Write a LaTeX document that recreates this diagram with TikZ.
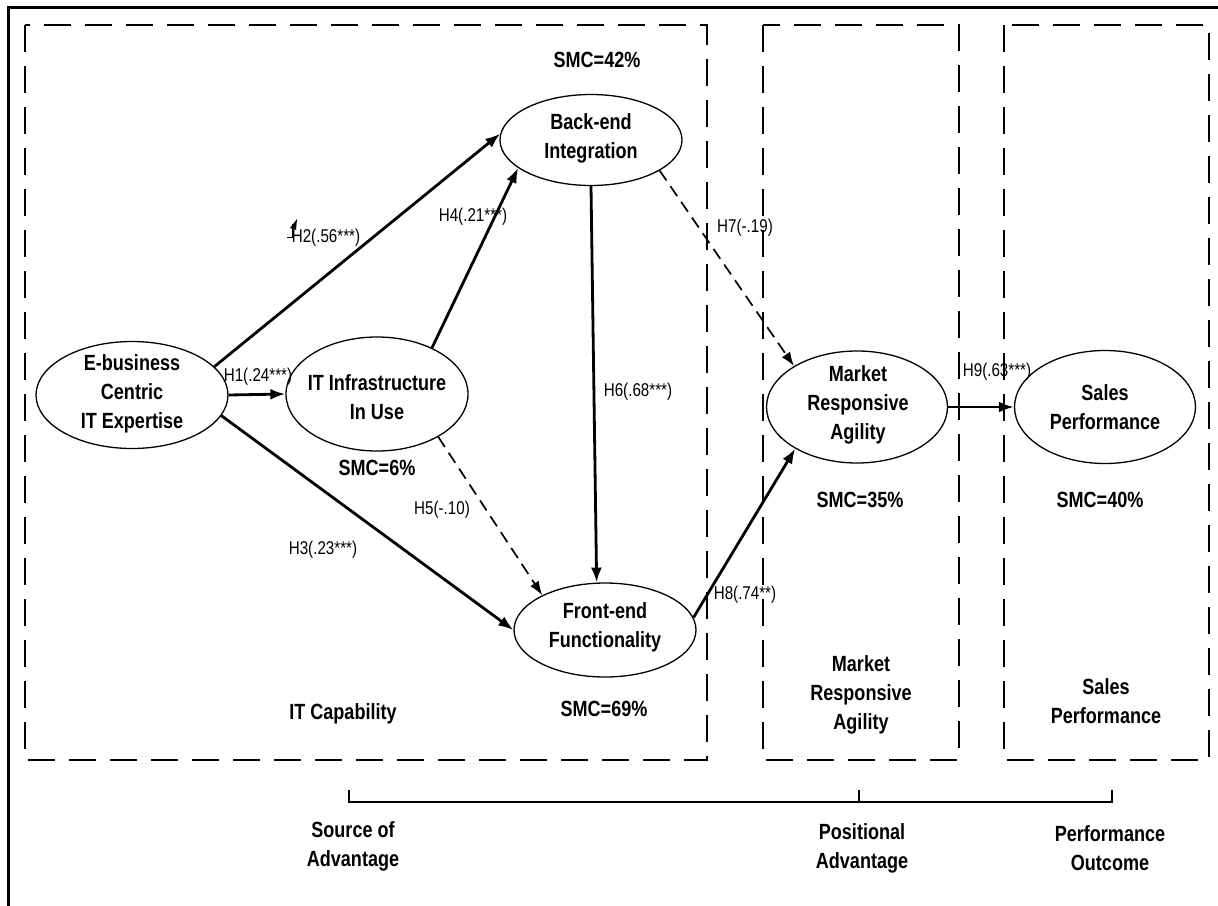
\documentclass[tikz,border=0pt]{standalone}
\usepackage{fontspec}
\setmainfont{Liberation Sans}[FakeStretch=0.82]
\usetikzlibrary{shapes.geometric,arrows.meta}
\begin{document}
\begin{tikzpicture}[x=1pt,y=-1pt,
  lat/.style={ellipse,draw,line width=1.3pt,inner sep=0pt},
  big/.style={font=\fontsize{22}{29}\selectfont\bfseries,align=center,inner sep=0pt},
  hl/.style={font=\fontsize{18.5}{22}\selectfont,inner sep=0pt},
  solidarrow/.style={line width=2.8pt,-{Latex[length=15pt,width=11pt]}},
  dasharrow/.style={line width=1.7pt,dash pattern=on 12pt off 7pt,-{Latex[length=14pt,width=10pt]}},
  boxdash/.style={line width=2.6pt,dash pattern=on 27pt off 14pt},
  bracketline/.style={line width=2.8pt}]
\path[use as bounding box] (0,0) rectangle (1218,905);
\clip (0,0) rectangle (1218,905);
\fill[white] (0,0) rectangle (1218,905);
% outer frame
\draw[line width=3pt] (8,7) rectangle (1240,930);
% dashed boxes
\draw[boxdash] (25,25) rectangle (707,760);
\draw[boxdash] (763,25) rectangle (959,760);
\draw[boxdash] (1004,25) rectangle (1209,760);
% latent variables
\node[lat,minimum width=192pt,minimum height=107pt] (eb) at (132,395) {};
\node[big] (ebt) at (132,394) {E-business\\Centric\\IT Expertise};
\node[lat,minimum width=182pt,minimum height=114pt] (iti) at (377,394) {};
\node[big] (itit) at (377,397) {IT Infrastructure\\In Use};
\node[lat,minimum width=182pt,minimum height=91pt] (be) at (591,140) {};
\node[big] (bet) at (591,138) {Back-end\\Integration};
\node[lat,minimum width=182pt,minimum height=94pt] (fe) at (605,630) {};
\node[big] (fet) at (605,627) {Front-end\\Functionality};
\node[lat,minimum width=181pt,minimum height=112pt] (ma) at (857,407) {};
\node[big] (mat) at (858,405) {Market\\Responsive\\Agility};
\node[lat,minimum width=181pt,minimum height=113pt] (sp) at (1105,407) {};
\node[big] (spt) at (1105,407) {Sales\\Performance};
% SMC texts
\node[big] (smc42) at (597,60) {SMC=42\%};
\node[big] (smc6) at (377,468) {SMC=6\%};
\node[big] (smc69) at (604,709) {SMC=69\%};
\node[big] (smc35) at (860,500) {SMC=35\%};
\node[big] (smc40) at (1100,500) {SMC=40\%};
% box labels
\node[big] (itcap) at (343,714) {IT Capability};
\node[big] (mraBox) at (861,695) {Market\\Responsive\\Agility};
\node[big] (spBox) at (1106,701) {Sales\\Performance};
% arrows
\draw[solidarrow] (eb.19) -- (be.176);
\draw[solidarrow] (eb.east) -- (iti.west);
\draw[solidarrow] (eb.-13) -- (fe.180);
\draw[solidarrow] (iti.40) -- (be.201);
\draw[dasharrow] (iti.-35) -- (fe.151);
\draw[solidarrow] (be.south) -- (fe.100);
\draw[dasharrow] (be.-24) -- (ma.147);
\draw[solidarrow] (fe.8) -- (ma.214);
\draw[solidarrow] (ma.east) -- (sp.west);
% path labels
\node[hl] (h2) at (326,238) {H2(.56***)};
\node[hl] (h1) at (258,377) {H1(.24***)};
\node[hl] (h3) at (323,550) {H3(.23***)};
\node[hl] (h4) at (473,217) {H4(.21***)};
\node[hl] (h5) at (442,510) {H5(-.10)};
\node[hl] (h6) at (638,392) {H6(.68***)};
\node[hl] (h7) at (745,228) {H7(-.19)};
\node[hl] (h8) at (745,595) {H8(.74**)};
\node[hl] (h9) at (997,372) {H9(.63***)};
% small mark near H2
\draw[line width=0.8pt] (287,237) -- (292,237) -- (292,224);
\fill (290,228) -- (297,219) -- (296,230) -- cycle;
% bracket
\coordinate (bA) at (349,790);
\coordinate (bB) at (859,790);
\coordinate (bC) at (1112,790);
\draw[bracketline] (bA) -- (349,802) -- (1112,802) -- (bC);
\draw[bracketline] (bB) -- (859,802);
% bottom labels
\node[big] (soa) at (353,846) {Source of\\Advantage};
\node[big] (pa) at (862,848) {Positional\\Advantage};
\node[big] (po) at (1110,848) {Performance\\Outcome};
\end{tikzpicture}
\end{document}
